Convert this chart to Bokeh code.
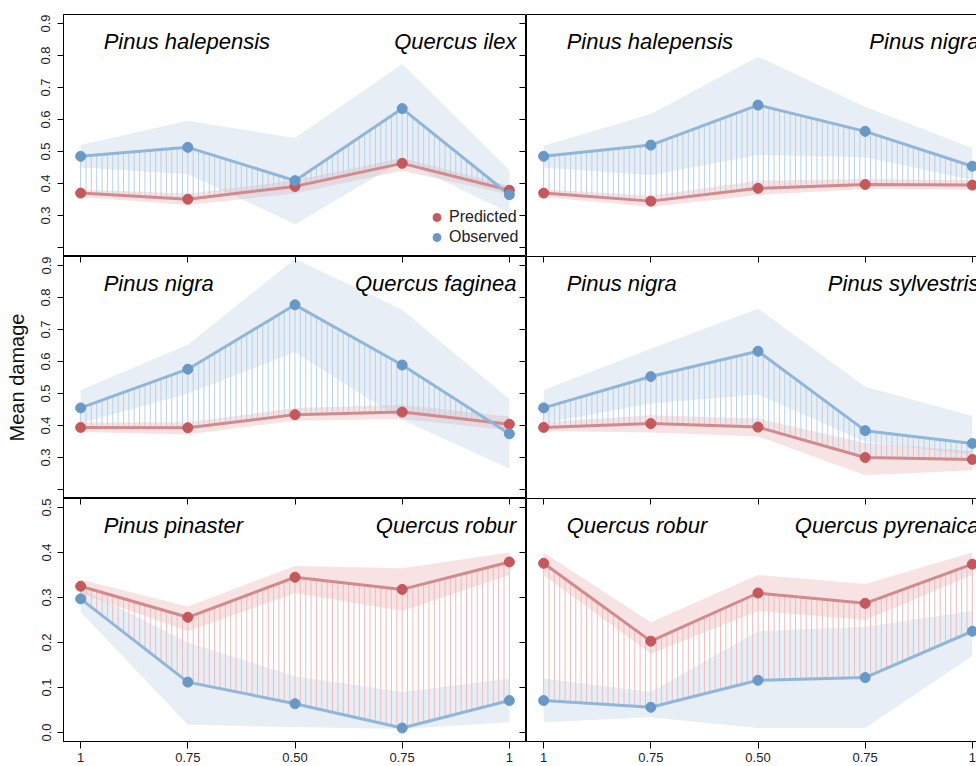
import numpy as np
from bokeh.plotting import figure
from bokeh.layouts import column, row
from bokeh.models import (Range1d, FixedTicker, LinearAxis, Label, Legend,
                          LegendItem, PrintfTickFormatter)
from bokeh.embed import file_html
from bokeh.resources import INLINE

# ---------------- data ----------------
x_pos = [1, 2, 3, 4, 5]
x_tick_labels = ["1", "0.75", "0.50", "0.75", "1"]
y_ticks_upper = [0.2, 0.3, 0.4, 0.5, 0.6, 0.7, 0.8, 0.9]
y_ticks_lower = [0.0, 0.1, 0.2, 0.3, 0.4, 0.5]

# Panel A: Pinus halepensis - Quercus ilex
A_pred = [0.370, 0.351, 0.391, 0.463, 0.379]
A_pred_lo = [0.358, 0.333, 0.369, 0.440, 0.366]
A_pred_hi = [0.382, 0.368, 0.410, 0.480, 0.393]
A_obs = [0.485, 0.513, 0.409, 0.634, 0.365]
A_obs_lo = [0.450, 0.429, 0.273, 0.470, 0.309]
A_obs_hi = [0.520, 0.596, 0.542, 0.773, 0.442]

# Panel B: Pinus halepensis - Pinus nigra
B_pred = [0.370, 0.345, 0.385, 0.397, 0.395]
B_pred_lo = [0.358, 0.327, 0.364, 0.383, 0.381]
B_pred_hi = [0.382, 0.362, 0.409, 0.414, 0.410]
B_obs = [0.485, 0.520, 0.645, 0.563, 0.454]
B_obs_lo = [0.450, 0.426, 0.489, 0.482, 0.411]
B_obs_hi = [0.518, 0.617, 0.796, 0.640, 0.511]

# Panel C: Pinus nigra - Quercus faginea
C_pred = [0.394, 0.393, 0.434, 0.442, 0.404]
C_pred_lo = [0.380, 0.372, 0.415, 0.420, 0.385]
C_pred_hi = [0.410, 0.410, 0.455, 0.465, 0.428]
C_obs = [0.455, 0.576, 0.777, 0.589, 0.374]
C_obs_lo = [0.407, 0.500, 0.629, 0.417, 0.266]
C_obs_hi = [0.511, 0.652, 0.921, 0.762, 0.483]

# Panel D: Pinus nigra - Pinus sylvestris
D_pred = [0.394, 0.406, 0.395, 0.300, 0.294]
D_pred_lo = [0.383, 0.378, 0.366, 0.245, 0.260]
D_pred_hi = [0.410, 0.432, 0.422, 0.345, 0.320]
D_obs = [0.455, 0.553, 0.632, 0.384, 0.344]
D_obs_lo = [0.407, 0.469, 0.497, 0.349, 0.308]
D_obs_hi = [0.511, 0.640, 0.765, 0.521, 0.430]

# Panel E: Pinus pinaster - Quercus robur
E_pred = [0.325, 0.256, 0.345, 0.318, 0.379]
E_pred_lo = [0.310, 0.225, 0.310, 0.270, 0.350]
E_pred_hi = [0.340, 0.280, 0.370, 0.365, 0.400]
E_obs = [0.297, 0.112, 0.064, 0.010, 0.071]
E_obs_lo = [0.268, 0.017, 0.012, 0.008, 0.023]
E_obs_hi = [0.320, 0.200, 0.125, 0.090, 0.120]

# Panel F: Quercus robur - Quercus pyrenaica
F_pred = [0.376, 0.203, 0.310, 0.287, 0.374]
F_pred_lo = [0.350, 0.175, 0.270, 0.250, 0.350]
F_pred_hi = [0.400, 0.245, 0.350, 0.330, 0.400]
F_obs = [0.071, 0.056, 0.116, 0.122, 0.225]
F_obs_lo = [0.023, 0.034, 0.010, 0.010, 0.170]
F_obs_hi = [0.120, 0.090, 0.225, 0.235, 0.270]

species_left = ["Pinus halepensis", "Pinus halepensis", "Pinus nigra",
                "Pinus nigra", "Pinus pinaster", "Quercus robur"]
species_right = ["Quercus ilex", "Pinus nigra", "Quercus faginea",
                 "Pinus sylvestris", "Quercus robur", "Quercus pyrenaica"]
legend_labels = ["Predicted", "Observed"]

# ---------------- style ----------------
FONT = "Liberation Sans"
RED_PT = "#c4585c"
RED_LN = "#d38a8d"
RED_BAND = "#e39a9c"
RED_HATCH = "#ebbcbd"
BLUE_PT = "#6798c8"
BLUE_LN = "#90b6d9"
BLUE_BAND = "#aec3e0"
BLUE_HATCH = "#b9d0e6"

panels = [
    (A_pred, A_pred_lo, A_pred_hi, A_obs, A_obs_lo, A_obs_hi),
    (B_pred, B_pred_lo, B_pred_hi, B_obs, B_obs_lo, B_obs_hi),
    (C_pred, C_pred_lo, C_pred_hi, C_obs, C_obs_lo, C_obs_hi),
    (D_pred, D_pred_lo, D_pred_hi, D_obs, D_obs_lo, D_obs_hi),
    (E_pred, E_pred_lo, E_pred_hi, E_obs, E_obs_lo, E_obs_hi),
    (F_pred, F_pred_lo, F_pred_hi, F_obs, F_obs_lo, F_obs_hi),
]

LEFT_FW, RIGHT_FW = 463, 450
X0, X1 = 0.84, 5.16


def blank_axis(ax, ticks):
    ax.major_label_overrides = {t: "" for t in ticks}
    ax.major_label_text_font_size = "1px"
    ax.major_label_standoff = 0
    ax.minor_tick_line_color = None
    ax.axis_line_color = "black"


def make_panel(idx):
    r, c = divmod(idx, 2)
    is_left = c == 0
    pred, pred_lo, pred_hi, obs, obs_lo, obs_hi = panels[idx]
    fw = LEFT_FW if is_left else RIGHT_FW
    fh = 242 if r < 2 else 243
    xr = Range1d(X0, X1) if is_left else Range1d(X0, X0 + (X1 - X0) * RIGHT_FW / LEFT_FW)
    if r < 2:
        yr = Range1d(0.172, 0.928)
        yt = y_ticks_upper
        txt_y = 0.844
    else:
        yr = Range1d(-0.02, 0.52)
        yt = y_ticks_lower
        txt_y = 0.461

    p = figure(frame_width=fw, frame_height=fh, x_range=xr, y_range=yr,
               output_backend="svg", toolbar_location=None,
               x_axis_location=None, y_axis_location=None,
               min_border_left=63 if is_left else 0, min_border_right=0,
               min_border_top=14 if r == 0 else 0,
               min_border_bottom=25 if r == 2 else 0,
               background_fill_color="white", border_fill_color="white")
    p.grid.visible = False
    p.outline_line_color = "black" if is_left else None

    # confidence bands
    p.varea(x=x_pos, y1=pred_lo, y2=pred_hi, fill_color=RED_BAND, fill_alpha=0.28)
    p.varea(x=x_pos, y1=obs_lo, y2=obs_hi, fill_color=BLUE_BAND, fill_alpha=0.28)

    # hatching between the two curves
    xs = np.linspace(x_pos[0], x_pos[-1], 81)
    yp = np.interp(xs, x_pos, pred)
    yo = np.interp(xs, x_pos, obs)
    cols = [BLUE_HATCH if o > q else RED_HATCH for o, q in zip(yo, yp)]
    p.segment(x0=xs, y0=yp, x1=xs, y1=yo, line_color=cols, line_width=1)

    # lines and points
    p.line(x_pos, pred, line_color=RED_LN, line_width=3)
    p.line(x_pos, obs, line_color=BLUE_LN, line_width=3)
    rp = p.scatter(x_pos, pred, size=10, fill_color=RED_PT, line_color=RED_PT)
    bp = p.scatter(x_pos, obs, size=10, fill_color=BLUE_PT, line_color=BLUE_PT)

    # species labels
    for txt, xx, al in ((species_left[idx], 1.215, "left"),
                        (species_right[idx], 5.066, "right")):
        p.add_layout(Label(x=xx, y=txt_y, text=txt, text_align=al,
                           text_baseline="alphabetic", text_font=FONT,
                           text_font_style="italic", text_font_size="22px",
                           text_color="black"))

    xover = {v: s for v, s in zip(x_pos, x_tick_labels)}

    if is_left:
        ya = LinearAxis(ticker=FixedTicker(ticks=yt),
                        formatter=PrintfTickFormatter(format="%.1f"),
                        major_label_orientation="parallel")
        if r < 2:
            ya.major_label_overrides = {0.2: ""}
        ya.major_tick_out = 6
        ya.major_tick_in = 0
        ya.minor_tick_line_color = None
        ya.major_label_standoff = 7
        ya.major_label_text_font = FONT
        ya.major_label_text_font_size = "13px"
        ya.major_label_text_color = "#222222"
        ya.axis_line_color = "black"
        if r == 1:
            ya.axis_label = "Mean damage"
            ya.axis_label_text_font = FONT
            ya.axis_label_text_font_size = "20px"
            ya.axis_label_text_font_style = "normal"
            ya.axis_label_text_color = "#111111"
            ya.axis_label_standoff = 11
        p.add_layout(ya, "left")
        yr_ax = LinearAxis(ticker=FixedTicker(ticks=yt), major_tick_in=7, major_tick_out=0)
        blank_axis(yr_ax, yt)
        p.add_layout(yr_ax, "right")
    else:
        yl = LinearAxis(ticker=FixedTicker(ticks=yt), major_tick_in=0, major_tick_out=0)
        blank_axis(yl, yt)
        yl.major_tick_line_color = None
        p.add_layout(yl, "left")

    # top edge
    if r > 0:
        ta = LinearAxis(ticker=FixedTicker(ticks=x_pos), major_tick_in=6, major_tick_out=0)
        blank_axis(ta, x_pos)
        p.add_layout(ta, "above")
    elif not is_left:
        ta = LinearAxis(ticker=FixedTicker(ticks=x_pos), major_tick_in=0, major_tick_out=0)
        blank_axis(ta, x_pos)
        ta.major_tick_line_color = None
        p.add_layout(ta, "above")

    # bottom edge
    if r == 2:
        ba = LinearAxis(ticker=FixedTicker(ticks=x_pos), major_label_overrides=xover)
        ba.major_tick_out = 7
        ba.major_tick_in = 0
        ba.minor_tick_line_color = None
        ba.major_label_standoff = 4
        ba.major_label_text_font = FONT
        ba.major_label_text_font_size = "13px"
        ba.major_label_text_color = "#222222"
        ba.axis_line_color = "black"
        p.add_layout(ba, "below")
    elif not is_left:
        ba = LinearAxis(ticker=FixedTicker(ticks=x_pos), major_tick_in=0, major_tick_out=0)
        blank_axis(ba, x_pos)
        ba.major_tick_line_color = None
        p.add_layout(ba, "below")

    if idx == 0:
        leg = Legend(items=[LegendItem(label=legend_labels[0], renderers=[rp]),
                            LegendItem(label=legend_labels[1], renderers=[bp])],
                     location=(361, 9), border_line_color=None,
                     background_fill_alpha=0, padding=0, margin=0, spacing=0,
                     glyph_width=25, glyph_height=20, label_height=20,
                     label_standoff=0, label_text_font=FONT,
                     label_text_font_size="16px", label_text_color="#222222")
        p.add_layout(leg)
    return p


figs = [make_panel(i) for i in range(6)]
layout = column(row(figs[0], figs[1]), row(figs[2], figs[3]), row(figs[4], figs[5]))

open("out.html", "w").write(file_html(layout, INLINE))
